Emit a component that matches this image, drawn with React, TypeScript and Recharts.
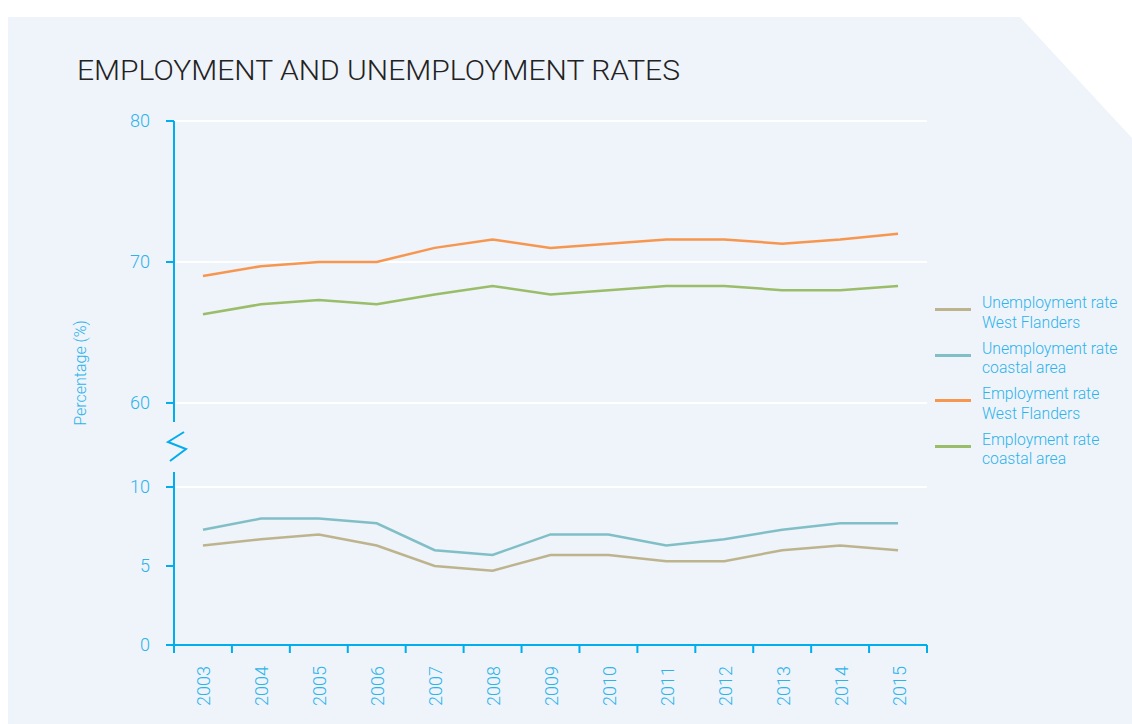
import { Line, LineChart, ReferenceLine, XAxis, YAxis } from 'recharts'

const years = ['2003', '2004', '2005', '2006', '2007', '2008', '2009', '2010', '2011', '2012', '2013', '2014', '2015']
const unemploymentWestFlanders = [6.3, 6.7, 7.0, 6.3, 5.0, 4.7, 5.7, 5.7, 5.3, 5.3, 6.0, 6.3, 6.0]
const unemploymentCoastal = [7.3, 8.0, 8.0, 7.7, 6.0, 5.7, 7.0, 7.0, 6.3, 6.7, 7.3, 7.7, 7.7]
const employmentWestFlanders = [69.0, 69.7, 70.0, 70.0, 71.0, 71.6, 71.0, 71.3, 71.6, 71.6, 71.3, 71.6, 72.0]
const employmentCoastal = [66.3, 67.0, 67.3, 67.0, 67.7, 68.3, 67.7, 68.0, 68.3, 68.3, 68.0, 68.0, 68.3]

const upperTicks = [60, 70, 80]
const lowerTicks = [0, 5, 10]

const AXIS = '#00adee'
const TEXT = '#2cb3ec'
const FONT = 'Roboto, "Liberation Sans", sans-serif'

const series = [
    { key: 'unempWF', label: ['Unemployment rate', 'West Flanders'], color: '#bdb48e' },
    { key: 'unempCoast', label: ['Unemployment rate', 'coastal area'], color: '#81bfc7' },
    { key: 'empWF', label: ['Employment rate', 'West Flanders'], color: '#f7964e' },
    { key: 'empCoast', label: ['Employment rate', 'coastal area'], color: '#99bd68' },
]

const rows = years.map((year, i) => ({
    pos: i + 0.5,
    year,
    unempWF: unemploymentWestFlanders[i],
    unempCoast: unemploymentCoastal[i],
    empWF: employmentWestFlanders[i],
    empCoast: employmentCoastal[i],
}))

// boundaries get a tick mark, centres get the year label
const xTicks = years.flatMap((_, i) => [i, i + 0.5]).concat(years.length)

const YearTick = (props: any) => {
    const { x, y, payload } = props
    const v = payload.value
    if (Number.isInteger(v)) {
        return <line x1={x} x2={x} y1={y} y2={y + 8} stroke={AXIS} strokeWidth={2} />
    }
    const ty = y + 21
    return (
        <text
            x={x + 1}
            y={ty}
            transform={`rotate(-90 ${x + 1} ${ty})`}
            textAnchor={'end'}
            dominantBaseline={'central'}
            fill={TEXT}
            fontSize={18}
            fontFamily={FONT}
            fontWeight={300}
        >
            {years[Math.floor(v)]}
        </text>
    )
}

const yTick = { fill: TEXT, fontSize: 18, fontFamily: FONT, fontWeight: 300 }

const App = () => {
    return (
        <div style={{ position: 'absolute', left: 0, top: 0, width: 1132, height: 724, background: '#fff' }}>
            <svg width={1132} height={724} style={{ position: 'absolute', left: 0, top: 0 }}>
                <polygon points={'8,17 1020,17 1132,138 1132,724 8,724'} fill={'#eff3fa'} />
                <text
                    x={77}
                    y={80}
                    fontSize={28}
                    fontFamily={FONT}
                    fontWeight={300}
                    fill={'#222'}
                    textLength={603}
                    lengthAdjust={'spacingAndGlyphs'}
                >
                    EMPLOYMENT AND UNEMPLOYMENT RATES
                </text>
                <text
                    x={80}
                    y={373}
                    transform={'rotate(-90 80 373)'}
                    textAnchor={'middle'}
                    dominantBaseline={'central'}
                    fontSize={16}
                    fontFamily={FONT}
                    fontWeight={300}
                    fill={TEXT}
                >
                    Percentage (%)
                </text>
                <polyline
                    points={'184,432 168,442 186,449 170,461'}
                    fill={'none'}
                    stroke={AXIS}
                    strokeWidth={2}
                />
            </svg>

            <div style={{ position: 'absolute', left: 0, top: 0 }}>
                <LineChart width={1132} height={430} data={rows} margin={{ top: 121, right: 205, bottom: 8, left: 0 }}>
                    <XAxis dataKey={'pos'} type={'number'} domain={[0, years.length]} hide />
                    <YAxis
                        width={174}
                        domain={[58.65, 80]}
                        ticks={upperTicks}
                        interval={0}
                        stroke={AXIS}
                        strokeWidth={2}
                        tickSize={8}
                        tickMargin={16}
                        tick={yTick}
                    />
                    {upperTicks.map(t => (
                        <ReferenceLine key={t} y={t} stroke={'#fff'} strokeWidth={2} />
                    ))}
                    {series.slice(2).map(s => (
                        <Line
                            key={s.key}
                            dataKey={s.key}
                            stroke={s.color}
                            strokeWidth={2.5}
                            dot={false}
                            isAnimationActive={false}
                        />
                    ))}
                </LineChart>
            </div>

            <div style={{ position: 'absolute', left: 0, top: 440 }}>
                <LineChart width={1132} height={284} data={rows} margin={{ top: 32, right: 205, bottom: 0, left: 0 }}>
                    <ReferenceLine y={10} stroke={'#fff'} strokeWidth={2} />
                    <XAxis
                        dataKey={'pos'}
                        type={'number'}
                        domain={[0, years.length]}
                        ticks={xTicks}
                        interval={0}
                        height={79}
                        stroke={AXIS}
                        strokeWidth={2}
                        tickLine={false}
                        tickSize={0}
                        tickMargin={0}
                        tick={<YearTick />}
                    />
                    <YAxis
                        width={174}
                        domain={[0, 10.95]}
                        ticks={lowerTicks}
                        interval={0}
                        stroke={AXIS}
                        strokeWidth={2}
                        tickSize={8}
                        tickMargin={16}
                        tick={yTick}
                    />
                    {series.slice(0, 2).map(s => (
                        <Line
                            key={s.key}
                            dataKey={s.key}
                            stroke={s.color}
                            strokeWidth={2.5}
                            dot={false}
                            isAnimationActive={false}
                        />
                    ))}
                </LineChart>
            </div>

            <div style={{ position: 'absolute', left: 935, top: 290, fontFamily: FONT, fontWeight: 300 }}>
                {series.map(s => (
                    <div key={s.key} style={{ display: 'flex', alignItems: 'center', height: 45.5 }}>
                        <div style={{ width: 36, height: 3, background: s.color, marginRight: 11, marginTop: -6 }} />
                        <div style={{ color: TEXT, fontSize: 15.7, lineHeight: '19.5px' }}>
                            {s.label[0]}
                            <br />
                            {s.label[1]}
                        </div>
                    </div>
                ))}
            </div>
        </div>
    )
}

export default App
